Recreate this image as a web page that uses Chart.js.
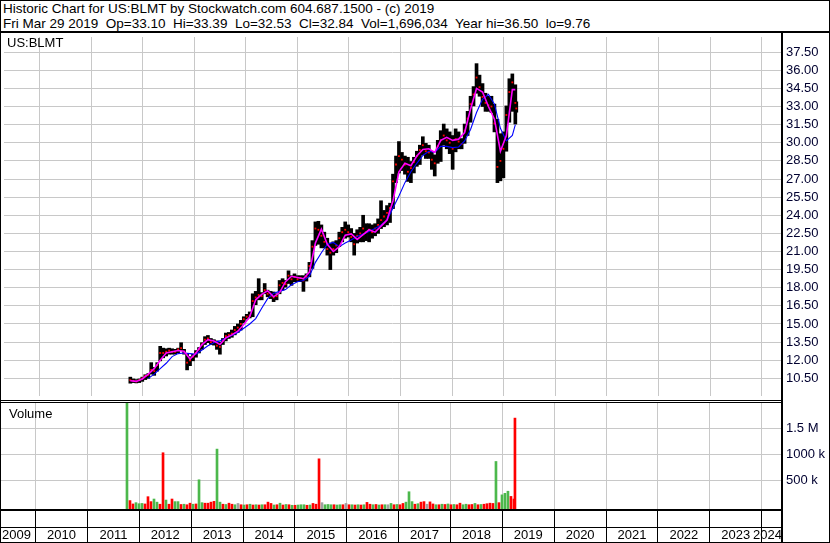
<!DOCTYPE html>
<html><head><meta charset="utf-8">
<script src="https://cdn.jsdelivr.net/npm/chart.js@4.4.1/dist/chart.umd.min.js"></script>
<style>
html,body{margin:0;padding:0;background:#fff;}
#wrap{position:relative;width:830px;height:543px;overflow:hidden;font-family:"Liberation Sans",Arial,sans-serif;color:#000;background:#fff;}
.ln{position:absolute;background:#000;}
.txt{position:absolute;font-size:13px;line-height:15px;white-space:pre;}
.hd{font-size:13.5px;}
canvas{position:absolute;left:0;top:0;}
</style></head>
<body><div id="wrap">
<div style="position:absolute;left:0;top:33px;width:830px;height:367px"><canvas id="price" width="830" height="367"></canvas></div>
<div style="position:absolute;left:0;top:403px;width:830px;height:140px"><canvas id="vol" width="830" height="140"></canvas></div>
<div class="txt hd" style="left:3px;top:1px">Historic Chart for US:BLMT by Stockwatch.com 604.687.1500 - (c) 2019</div>
<div class="txt hd" style="left:3px;top:16px">Fri Mar 29 2019  Op=33.10  Hi=33.39  Lo=32.53  Cl=32.84  Vol=1,696,034  Year hi=36.50  lo=9.76</div>
<div class="txt" style="left:7px;top:35px">US:BLMT</div>
<div class="txt" style="left:9px;top:406px">Volume</div>
<div class="ln" style="left:0;top:0;width:830px;height:1px"></div>
<div class="ln" style="left:0;top:0;width:1px;height:543px"></div>
<div class="ln" style="left:829px;top:0;width:1px;height:543px"></div>
<div class="ln" style="left:0;top:542px;width:830px;height:1px"></div>
<div class="ln" style="left:0;top:31px;width:830px;height:2px"></div>
<div class="ln" style="left:781px;top:31px;width:2px;height:512px"></div>
<div class="ln" style="left:0;top:400px;width:781px;height:1px"></div>
<div class="ln" style="left:0;top:402px;width:781px;height:1px"></div>
<div class="ln" style="left:0;top:509px;width:781px;height:2px"></div>
<div class="ln" style="left:0;top:527px;width:781px;height:1px"></div>
</div>
<script>
// ---------- data ----------
const barTimes = [
2011.762,2011.820,2011.878,2011.936,2011.994,2012.052,2012.110,2012.167,2012.225,2012.283,
2012.341,2012.399,2012.457,2012.514,2012.572,2012.630,2012.688,2012.746,2012.804,2012.862,
2012.919,2012.977,2013.035,2013.093,2013.151,2013.209,2013.266,2013.324,2013.382,2013.440,
2013.498,2013.556,2013.613,2013.671,2013.729,2013.787,2013.845,2013.903,2013.961,2014.018,
2014.076,2014.134,2014.192,2014.250,2014.308,2014.366,2014.423,2014.481,2014.539,2014.597,
2014.655,2014.713,2014.770,2014.828,2014.886,2014.944,2015.002,2015.060,2015.117,2015.175,
2015.233,2015.291,2015.349,2015.407,2015.465,2015.522,2015.580,2015.638,2015.696,2015.754,
2015.812,2015.869,2015.927,2015.985,2016.043,2016.101,2016.159,2016.217,2016.274,2016.332,
2016.390,2016.448,2016.506,2016.564,2016.621,2016.679,2016.737,2016.795,2016.853,2016.911,
2016.968,2017.026,2017.084,2017.142,2017.200,2017.258,2017.315,2017.373,2017.431,2017.489,
2017.547,2017.605,2017.662,2017.720,2017.778,2017.836,2017.894,2017.952,2018.009,2018.067,
2018.125,2018.183,2018.241,2018.299,2018.356,2018.414,2018.472,2018.530,2018.588,2018.646,
2018.703,2018.761,2018.819,2018.877,2018.935,2018.993,2019.050,2019.108,2019.166,2019.224,
2019.243];
const highs = [
10.6,10.45,10.4,10.45,10.6,10.8,10.9,11.8,11.4,11.8,
13.15,13.0,12.95,13.0,12.95,12.9,13.0,13.45,12.9,12.5,
12.3,12.5,12.8,13.05,13.45,13.95,14.05,13.8,13.7,13.6,
13.5,13.8,14.25,14.3,14.5,14.8,15.0,15.3,15.6,15.8,
16.0,17.5,17.7,18.75,17.6,18.35,17.8,17.7,17.65,17.5,
18.6,18.75,18.6,19.4,19.0,19.15,19.0,19.0,19.0,19.15,
20.1,21.9,23.45,23.5,23.2,22.6,22.1,21.7,21.8,21.9,
22.6,23.0,23.45,23.2,22.9,22.5,22.8,23.0,24.0,23.3,
23.3,23.2,23.3,23.7,25.2,24.4,24.8,25.0,27.4,28.9,
30.1,29.2,28.9,28.8,28.45,28.8,29.3,29.8,30.5,29.95,
29.8,29.3,29.0,30.2,31.0,31.55,31.15,30.9,30.6,31.15,
30.9,30.35,31.55,32.6,33.85,34.65,36.55,35.6,34.9,34.1,
33.85,33.85,33.2,31.95,30.75,30.9,33.05,35.3,35.7,34.8,
33.39];
const lows = [
10.1,10.15,10.12,10.15,10.25,10.4,10.5,10.85,10.75,11.1,
11.95,12.2,12.35,12.5,12.5,12.5,12.6,12.8,12.5,11.2,
11.55,11.95,12.25,12.6,12.9,13.3,13.45,13.3,13.25,12.9,
12.5,13.3,13.6,13.8,13.9,14.1,14.3,14.5,15.1,15.4,
15.5,15.6,16.6,17.0,17.0,17.5,17.25,17.1,16.85,17.0,
17.5,17.8,18.05,18.35,18.2,18.5,18.5,18.5,17.7,18.55,
18.9,19.6,21.5,21.6,21.3,21.3,20.7,19.5,20.7,20.9,
21.4,21.8,22.1,22.2,21.8,20.7,21.7,21.8,21.8,21.9,
21.8,22.1,22.3,22.5,22.9,23.05,23.2,23.4,24.55,26.7,
27.5,27.7,27.4,26.8,26.7,27.5,28.05,28.2,29.0,28.7,
28.7,27.8,27.25,28.3,28.45,29.8,29.5,29.1,27.8,29.25,
29.5,29.5,29.95,30.6,31.7,33.05,34.1,33.85,33.0,32.6,
32.6,32.5,30.9,26.7,26.85,27.1,29.3,31.7,32.6,31.55,
32.53];
const closes = [
10.35,10.3,10.25,10.35,10.5,10.7,10.8,11.2,11.1,11.6,
12.6,12.6,12.7,12.8,12.7,12.7,12.9,13.0,12.6,11.8,
12.0,12.3,12.6,12.9,13.3,13.7,13.8,13.5,13.5,13.2,
13.1,13.6,14.0,14.1,14.2,14.5,14.7,15.0,15.4,15.6,
15.7,16.9,17.2,17.4,17.3,17.8,17.5,17.3,17.2,17.3,
18.2,18.4,18.3,19.0,18.7,18.9,18.7,18.8,18.6,18.9,
19.8,21.4,22.9,22.8,22.3,21.8,21.2,20.9,21.2,21.5,
22.1,22.6,22.8,22.6,22.2,21.6,22.3,22.5,22.9,22.6,
22.8,22.6,22.9,23.2,23.6,23.9,24.2,24.6,26.8,28.2,
28.9,28.6,28.2,27.6,27.9,28.4,28.9,29.4,29.8,29.3,
29.2,28.6,28.3,29.7,30.2,30.6,30.2,30.0,29.5,30.3,
30.1,29.9,31.0,32.0,33.2,34.0,35.4,34.6,33.8,33.3,
33.1,33.0,31.6,28.0,28.5,29.5,32.3,34.2,35.0,33.3,
32.84];
const maTimes = [
2011.762,2011.878,2011.994,2012.110,2012.225,2012.341,2012.457,2012.572,2012.688,2012.804,
2012.919,2013.035,2013.151,2013.266,2013.382,2013.498,2013.613,2013.729,2013.845,2013.961,
2014.076,2014.192,2014.308,2014.423,2014.539,2014.655,2014.770,2014.886,2015.002,2015.117,
2015.233,2015.349,2015.465,2015.580,2015.696,2015.812,2015.927,2016.043,2016.159,2016.274,
2016.390,2016.506,2016.621,2016.737,2016.853,2016.968,2017.084,2017.200,2017.315,2017.431,
2017.547,2017.662,2017.778,2017.894,2018.009,2018.125,2018.241,2018.356,2018.472,2018.588,
2018.703,2018.819,2018.935,2019.050,2019.166,2019.224];
const maFast = [
10.3,10.25,10.45,10.85,11.3,12.0,12.6,12.7,12.8,12.75,
12.1,12.6,13.3,13.7,13.6,13.3,13.85,14.1,14.4,14.95,
15.6,17.0,17.45,17.75,17.25,17.6,18.5,18.95,18.85,18.75,
19.3,21.7,22.85,21.6,21.0,21.4,22.35,22.45,22.0,22.4,
22.8,22.6,23.1,23.6,25.2,27.6,28.3,28.1,28.9,29.45,
29.5,29.2,30.2,30.45,30.2,30.3,30.85,32.8,34.5,34.2,
33.0,31.95,29.3,30.6,34.4,34.4];
const maSlow = [
null,null,null,10.5,10.85,11.3,11.75,12.3,12.55,12.6,
12.55,12.5,12.85,13.2,13.45,13.6,13.85,14.05,14.3,14.65,
15.0,15.45,16.3,17.1,17.55,17.7,17.85,18.25,18.5,18.6,
18.95,20.1,20.9,21.6,21.75,21.4,21.7,21.95,22.25,22.45,
22.65,22.9,23.2,23.6,24.6,25.6,26.7,27.6,28.3,28.95,
29.3,29.2,29.7,29.7,29.6,29.65,30.15,31.1,32.5,33.6,
34.0,33.2,31.2,30.15,30.6,31.5];
const volumes = [
2100000,110000,45000,70000,50000,55000,45000,185000,90000,140000,
80000,40000,1030000,120000,40000,140000,90000,90000,35000,40000,
30000,60000,40000,45000,510000,70000,60000,60000,80000,95000,
1100000,80000,40000,35000,60000,40000,30000,55000,30000,25000,
30000,40000,25000,30000,25000,30000,30000,80000,55000,25000,
30000,60000,25000,35000,30000,20000,20000,25000,30000,30000,
20000,25000,55000,40000,913000,70000,30000,35000,30000,30000,
25000,30000,30000,55000,30000,30000,25000,30000,25000,30000,
75000,40000,30000,35000,25000,30000,30000,30000,55000,30000,
35000,30000,55000,80000,280000,90000,40000,50000,80000,90000,
40000,85000,45000,30000,30000,40000,35000,45000,30000,35000,
30000,60000,30000,40000,30000,35000,55000,30000,35000,40000,
50000,60000,55000,862000,70000,220000,250000,290000,190000,140000,
1696034];
const volDir = [
'G','R','R','G','G','G','R','R','R','G',
'G','R','R','G','R','R','G','G','R','G',
'R','R','G','R','G','G','R','R','R','R',
'G','G','R','G','R','R','G','N','R','G',
'R','G','R','G','R','G','R','R','R','G',
'R','G','R','G','R','G','R','G','G','G',
'R','G','R','R','R','N','G','G','G','R',
'G','G','R','N','R','G','R','G','R','G',
'R','R','G','R','G','R','G','N','G','R',
'G','R','R','G','G','G','R','G','R','R',
'N','R','R','G','R','G','R','G','R','G',
'R','R','G','G','R','R','G','R','G','R',
'R','R','R','G','R','G','G','G','R','R',
'R'];
const priceTicks = [10.5,12,13.5,15,16.5,18,19.5,21,22.5,24,25.5,27,28.5,30,31.5,33,34.5,36,37.5];
const volTicks = [500000,1000000,1500000];
const volTickLabels = ['500 k','1000 k','1.5 M'];
const yearTicks = [2010,2011,2012,2013,2014,2015,2016,2017,2018,2019,2020,2021,2022,2023,2024];
const yearLabels = ['2009','2010','2011','2012','2013','2014','2015','2016','2017','2018','2019','2020','2021','2022','2023','2024'];

// ---------- axis ranges ----------
const X_MIN = 2009.3135, X_MAX = 2024.373;
const P_MIN = 9.039, P_MAX = 38.755;
const V_MIN = -51900, V_MAX = 1986500;
const GRID = '#c8c8c8';
const LABEL_COLOR = '#000030';
const FONT = {family:'"Liberation Sans", Arial, sans-serif', size:13};
const volColors = {G:'#4cb84c', R:'#ff0000', N:'#a0a0a0'};

function xScale(){
  return {
    type:'linear', min:X_MIN, max:X_MAX, offset:false,
    afterBuildTicks: s => { s.ticks = yearTicks.map(v => ({value:v})); },
    ticks:{display:false},
    grid:{color:GRID, lineWidth:1, drawTicks:false, offset:false},
    border:{display:false},
    afterFit: s => { s.height = 0; s.paddingLeft = 0; s.paddingRight = 0; }
  };
}

Chart.defaults.font.family = FONT.family;

new Chart(document.getElementById('price'), {
  type:'scatter',
  data:{datasets:[
    {type:'line', data: maTimes.map((t,i)=>({x:t,y:maFast[i]})), borderColor:'#ff00ff', borderWidth:1.6, pointRadius:0, tension:0, order:1},
    {type:'line', data: maTimes.map((t,i)=>({x:t,y:maSlow[i]})), borderColor:'#0000ff', borderWidth:1.1, pointRadius:0, tension:0, order:2},
    {type:'scatter', data: barTimes.map((t,i)=>({x:t,y:closes[i]})), pointStyle:'rect', pointRadius:1.3, backgroundColor:'#ff0000', borderWidth:0, order:3},
    {type:'bar', data: barTimes.map((t,i)=>({x:t,y:[lows[i],highs[i]]})), backgroundColor:'#000000', barThickness:3, order:5}
  ]},
  options:{
    responsive:false, animation:false, events:[],
    layout:{padding:0},
    plugins:{legend:{display:false}, tooltip:{enabled:false}},
    scales:{
      x: xScale(),
      y:{
        position:'right', min:P_MIN, max:P_MAX,
        afterBuildTicks: s => { s.ticks = priceTicks.map(v => ({value:v})); },
        ticks:{callback: v => Number(v).toFixed(2), color:LABEL_COLOR, font:FONT, padding:5},
        grid:{color:GRID, lineWidth:1, drawTicks:false},
        border:{display:false},
        afterFit: s => { s.width = 49; s.paddingTop = 0; s.paddingBottom = 0; }
      }
    }
  }
});

const yearBand = {
  id:'yearBand',
  afterDraw(chart){
    const {ctx, chartArea} = chart; const x = chart.scales.x;
    ctx.save();
    ctx.strokeStyle = '#000'; ctx.lineWidth = 1;
    yearTicks.forEach(v => {
      const px = Math.round(x.getPixelForValue(v) - 0.5) + 0.5;
      ctx.beginPath(); ctx.moveTo(px, chartArea.bottom); ctx.lineTo(px, chart.height); ctx.stroke();
    });
    ctx.font = '13px "Liberation Sans", Arial, sans-serif';
    ctx.fillStyle = '#000'; ctx.textBaseline = 'alphabetic';
    yearLabels.forEach(lbl => {
      const c = x.getPixelForValue(Number(lbl) + 0.5);
      const w = ctx.measureText(lbl).width;
      let l = c - w / 2;
      l = Math.max(2, Math.min(l, chartArea.right + 1 - w));
      ctx.fillText(lbl, l, 136);
    });
    ctx.restore();
  }
};

new Chart(document.getElementById('vol'), {
  type:'bar',
  data:{datasets:[
    {data: barTimes.map((t,i)=>({x:t,y:volumes[i]})), backgroundColor: volDir.map(d => volColors[d]), barThickness:2, base:V_MIN}
  ]},
  options:{
    responsive:false, animation:false, events:[],
    layout:{padding:{left:0,right:0,top:0,bottom:34}},
    plugins:{legend:{display:false}, tooltip:{enabled:false}},
    scales:{
      x: xScale(),
      y:{
        position:'right', min:V_MIN, max:V_MAX,
        afterBuildTicks: s => { s.ticks = volTicks.map(v => ({value:v})); },
        ticks:{callback: (v,i) => volTickLabels[i], color:LABEL_COLOR, font:FONT, padding:5},
        grid:{color:GRID, lineWidth:1, drawTicks:false},
        border:{display:false},
        afterFit: s => { s.width = 49; s.paddingTop = 0; s.paddingBottom = 0; }
      }
    }
  },
  plugins:[yearBand]
});
</script>
</body></html>
